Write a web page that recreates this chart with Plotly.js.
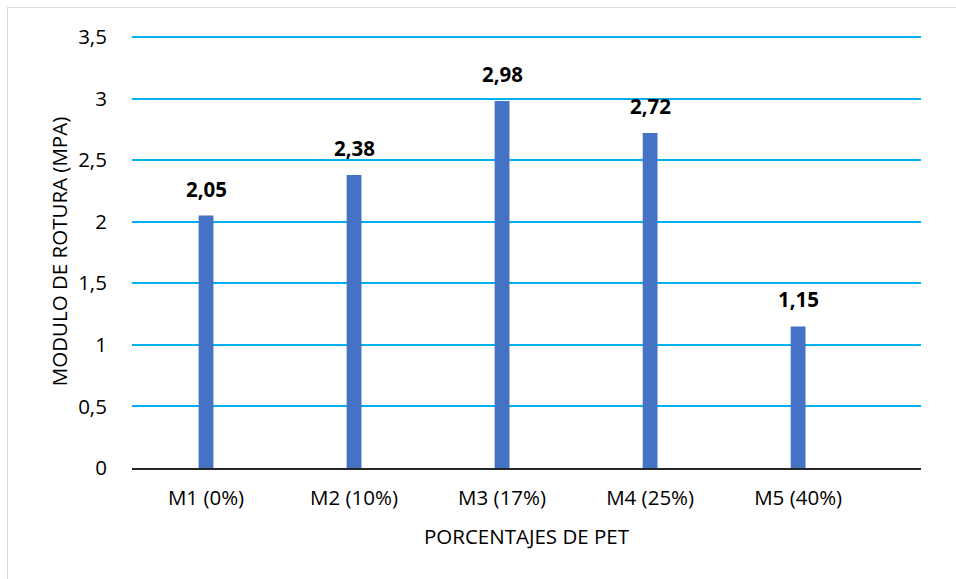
<!DOCTYPE html>
<html>
<head>
<meta charset="utf-8">
<script src="https://cdn.plot.ly/plotly-3.0.1.min.js"></script>
<style>
html,body{margin:0;padding:0;background:#fff;}
#wrap{position:relative;width:956px;height:579px;}
#chart{position:absolute;left:0;top:0;width:956px;height:579px;}
#frame{position:absolute;left:7px;top:7px;width:960px;height:590px;border:1px solid #d9d9d9;pointer-events:none;}
</style>
</head>
<body>
<div id="wrap"><div id="chart"></div><div id="frame"></div></div>
<script>
const categories = ["M1 (0%)", "M2 (10%)", "M3 (17%)", "M4 (25%)", "M5 (40%)"];
const values = [2.05, 2.38, 2.98, 2.72, 1.15];
const labels = ["2,05", "2,38", "2,98", "2,72", "1,15"];
const yTicks = [0, 0.5, 1, 1.5, 2, 2.5, 3, 3.5];
const yTickText = ["0", "0,5", "1", "1,5", "2", "2,5", "3", "3,5"];

const FONT = "Open Sans, Liberation Sans, sans-serif";

const trace = {
  type: "bar",
  x: categories,
  y: values,
  width: 0.1,
  marker: {color: "#4472C4"},
  hoverinfo: "none"
};

const annotations = categories.map((c, i) => ({
  x: c, y: values[i], xref: "x", yref: "y",
  text: "<b>" + labels[i] + "</b>",
  showarrow: false, yanchor: "bottom", yshift: 11,
  font: {family: FONT, size: 20.5, color: "#000"}
}));

const layout = {
  width: 956, height: 579,
  margin: {l: 132, r: 35, t: 35, b: 111},
  paper_bgcolor: "#fff", plot_bgcolor: "#fff",
  separators: ",.",
  showlegend: false,
  xaxis: {
    type: "category",
    range: [-0.5, 4.83],
    showgrid: false,
    showline: true, linecolor: "#262626", linewidth: 2,
    ticks: "outside", ticklen: 10, tickcolor: "rgba(0,0,0,0)",
    tickfont: {family: FONT, size: 20.5, color: "#000"},
    title: {text: "PORCENTAJES DE PET", font: {family: FONT, size: 20.5, color: "#000"}, standoff: 20},
    fixedrange: true
  },
  yaxis: {
    range: [0, 3.516],
    tickvals: yTicks, ticktext: yTickText,
    showgrid: true, gridcolor: "#00B0F0", gridwidth: 2,
    zeroline: false, showline: false,
    ticks: "outside", ticklen: 20, tickcolor: "rgba(0,0,0,0)",
    tickfont: {family: FONT, size: 20.5, color: "#000"},
    title: {text: "MODULO DE ROTURA (MPA)", font: {family: FONT, size: 20.5, color: "#000"}, standoff: 4},
    fixedrange: true
  },
  annotations: annotations
};

Plotly.newPlot("chart", [trace], layout, {displayModeBar: false, staticPlot: true});
</script>
</body>
</html>
